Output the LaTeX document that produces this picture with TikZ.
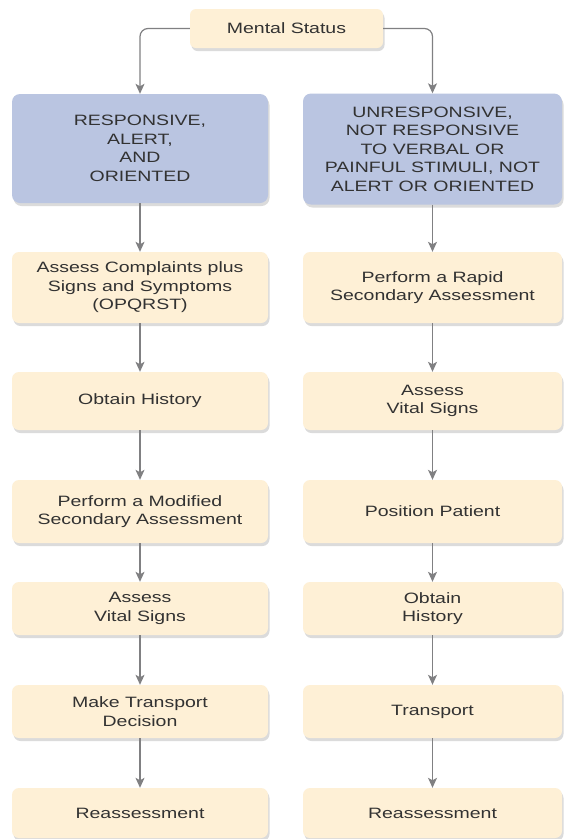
\documentclass[tikz,border=0pt]{standalone}
\usepackage{fontspec}
\setmainfont{Liberation Sans}[FakeStretch=1.3]
\usetikzlibrary{arrows.meta,shadows}

\definecolor{boxcream}{RGB}{254,240,214}
\definecolor{boxblue}{RGB}{186,197,225}
\definecolor{txtgray}{RGB}{50,50,50}
\definecolor{arrowgray}{RGB}{128,128,130}

\tikzset{
	box/.style={rectangle, rounded corners=7pt, fill=boxcream, text=txtgray,
		align=center, inner sep=0pt, font=\fontsize{15}{18.5}\selectfont,
		drop shadow={shadow xshift=1.5pt, shadow yshift=-3pt, opacity=.25, fill=black!55}},
	leftbox/.style={box, minimum width=256pt},
	rightbox/.style={box, minimum width=259pt},
	statebox/.style={fill=boxblue, rounded corners=8pt},
	flow/.style={draw=arrowgray, line width=1.2pt, -{Stealth[length=10pt,width=9pt,inset=2.5pt]}}
}

\begin{document}
\begin{tikzpicture}[x=1pt, y=-1pt]
		\useasboundingbox[fill=white] (0, 0) rectangle (565, 839);

		\node[box, minimum width=193pt, minimum height=39pt, rounded corners=6pt] (status) at (286.5, 28.5) {Mental Status};

		% left column
		\node[leftbox, statebox, minimum height=109pt] (resp) at (140, 148.5) {RESPONSIVE,\\ALERT,\\AND\\ORIENTED};
		\node[leftbox, minimum height=71pt] (complaints) at (140, 287.5) {Assess Complaints plus\\Signs and Symptoms\\(OPQRST)};
		\node[leftbox, minimum height=58pt] (historyL) at (140, 401) {Obtain History};
		\node[leftbox, minimum height=63pt] (modified) at (140, 511.5) {Perform a Modified\\Secondary Assessment};
		\node[leftbox, minimum height=53pt] (vitalsL) at (140, 608.5) {Assess\\Vital Signs};
		\node[leftbox, minimum height=53pt] (decision) at (140, 711.5) {Make Transport\\Decision};
		\node[leftbox, minimum height=50pt] (reassessL) at (140, 813) {Reassessment};

		% right column
		\node[rightbox, statebox, minimum height=111pt] (unresp) at (432.5, 149) {UNRESPONSIVE,\\NOT RESPONSIVE\\TO VERBAL OR\\PAINFUL STIMULI, NOT\\ALERT OR ORIENTED};
		\node[rightbox, minimum height=71pt] (rapid) at (432.5, 287.5) {Perform a Rapid\\Secondary Assessment};
		\node[rightbox, minimum height=58pt] (vitalsR) at (432.5, 401) {Assess\\Vital Signs};
		\node[rightbox, minimum height=63pt] (position) at (432.5, 511.5) {Position Patient};
		\node[rightbox, minimum height=53pt] (historyR) at (432.5, 608.5) {Obtain\\History};
		\node[rightbox, minimum height=53pt] (transport) at (432.5, 711.5) {Transport};
		\node[rightbox, minimum height=50pt] (reassessR) at (432.5, 813) {Reassessment};

		\draw[flow, rounded corners=8pt] (status.west) -| (resp.north);
		\draw[flow, rounded corners=8pt] (status.east) -| (unresp.north);

		\draw[flow] (resp) -- (complaints);
		\draw[flow] (complaints) -- (historyL);
		\draw[flow] (historyL) -- (modified);
		\draw[flow] (modified) -- (vitalsL);
		\draw[flow] (vitalsL) -- (decision);
		\draw[flow] (decision) -- (reassessL);

		\draw[flow] (unresp) -- (rapid);
		\draw[flow] (rapid) -- (vitalsR);
		\draw[flow] (vitalsR) -- (position);
		\draw[flow] (position) -- (historyR);
		\draw[flow] (historyR) -- (transport);
		\draw[flow] (transport) -- (reassessR);
	\end{tikzpicture}
\end{document}
